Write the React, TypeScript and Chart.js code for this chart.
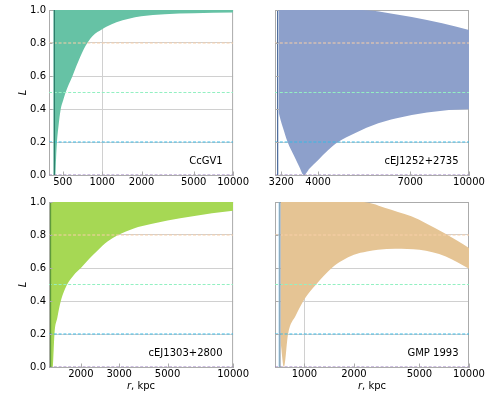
import { useEffect, useRef } from "react";
import { Chart, registerables } from "chart.js";

Chart.register(...registerables);

const FONT = "'DejaVu Sans', sans-serif";
const FRAME = "#ababab";
const GRID = "#d0d0d0";
const CLEAR = "rgba(0,0,0,0)";

// Reference levels of L, drawn as dashed lines in every panel
const levelValues = [0.8, 0.5, 0.2, 0.0];
const levelColors = ["#f9cfa8", "#93f0c2", "#38b8e4", "#9a7cc0"];
const yTickValues = [0, 0.2, 0.4, 0.6, 0.8, 1.0];

// CcGV1
const ccgvRange = [393, 10000];
const ccgvTicks = [500, 1000, 2000, 5000, 10000];
const ccgvUpperR = [424, 10000];
const ccgvUpperL = [1.0, 1.0];
const ccgvLowerR = [424, 440, 445, 452, 465, 483, 503, 526, 557, 594, 636, 680, 727, 778, 846, 920, 1000, 1087, 1286, 1600, 1989, 3000, 5000, 10000];
const ccgvLowerL = [0.0, 0.0, 0.1, 0.2, 0.3, 0.4, 0.45, 0.5, 0.55, 0.6, 0.66, 0.715, 0.765, 0.805, 0.842, 0.866, 0.884, 0.9, 0.926, 0.947, 0.962, 0.975, 0.981, 0.985];
const ccgvEdge = 432;

// cEJ1252+2735
const cej1252Range = [3081, 10000];
const cej1252Ticks = [3200, 4000, 7000, 10000];
const cej1252UpperR = [3149, 5210, 5600, 6000, 7066, 8500, 10000];
const cej1252UpperL = [1.0, 1.0, 0.995, 0.985, 0.958, 0.92, 0.879];
const cej1252LowerR = [3149, 3190, 3230, 3326, 3468, 3570, 3670, 3800, 4000, 4250, 4518, 5000, 5765, 6400, 7066, 8500, 10000];
const cej1252LowerL = [0.38, 0.33, 0.29, 0.2, 0.11, 0.05, 0.0, 0.04, 0.09, 0.15, 0.2, 0.253, 0.313, 0.342, 0.364, 0.39, 0.398];
const cej1252Edge = 3131;

// cEJ1303+2800
const cej1303Range = [1428, 10000];
const cej1303Ticks = [2000, 3000, 5000, 10000];
const cej1303UpperR = [1439, 10000];
const cej1303UpperL = [1.0, 1.0];
const cej1303LowerR = [1439, 1486, 1500, 1513, 1560, 1618, 1730, 1850, 2000, 2180, 2381, 2650, 2963, 3500, 4200, 5000, 6530, 8000, 10000];
const cej1303LowerL = [0.0, 0.0, 0.1, 0.2, 0.3, 0.4, 0.5, 0.555, 0.6, 0.655, 0.705, 0.76, 0.8, 0.84, 0.866, 0.888, 0.913, 0.932, 0.947];
const cej1303Edge = 1452;

// GMP 1993
const gmpRange = [663, 10000];
const gmpTicks = [1000, 2000, 5000, 10000];
const gmpUpperR = [717, 2210, 2600, 3070, 3700, 4460, 5500, 7110, 8500, 10000];
const gmpUpperL = [1.0, 1.0, 0.99, 0.965, 0.94, 0.913, 0.87, 0.81, 0.765, 0.721];
const gmpLowerR = [717, 752, 796, 885, 1000, 1178, 1466, 1700, 2000, 2400, 2800, 3565, 5000, 6000, 7230, 8500, 10000];
const gmpLowerL = [0.15, 0.0, 0.2, 0.31, 0.41, 0.5, 0.6, 0.645, 0.68, 0.7, 0.71, 0.717, 0.71, 0.695, 0.67, 0.635, 0.596];
const gmpEdges = [711, 704];
const gmpEdgeColors = ["#8d9aa6", "#7cc0e8"];

type Panel = {
  name: string;
  range: number[];
  ticks: number[];
  gridX: number[];
  upperR: number[];
  upperL: number[];
  lowerR: number[];
  lowerL: number[];
  fill: string;
  edges: number[];
  edgeColors: string[];
  showY: boolean;
  showXTitle: boolean;
  box: { left: number; top: number; width: number; height: number };
  area: { left: number; top: number; right: number; bottom: number };
};

const panels: Panel[] = [
  {
    name: "CcGV1",
    range: ccgvRange,
    ticks: ccgvTicks,
    gridX: [1000],
    upperR: ccgvUpperR,
    upperL: ccgvUpperL,
    lowerR: ccgvLowerR,
    lowerL: ccgvLowerL,
    fill: "#66c2a5",
    edges: [ccgvEdge],
    edgeColors: ["#2d7d6c"],
    showY: true,
    showXTitle: false,
    box: { left: 0, top: 0, width: 250, height: 196 },
    area: { left: 49, top: 10, right: 242, bottom: 175 },
  },
  {
    name: "cEJ1252+2735",
    range: cej1252Range,
    ticks: cej1252Ticks,
    gridX: [],
    upperR: cej1252UpperR,
    upperL: cej1252UpperL,
    lowerR: cej1252LowerR,
    lowerL: cej1252LowerL,
    fill: "#8da0cb",
    edges: [cej1252Edge],
    edgeColors: ["#46679a"],
    showY: false,
    showXTitle: false,
    box: { left: 250, top: 0, width: 241, height: 196 },
    area: { left: 25, top: 10, right: 219, bottom: 175 },
  },
  {
    name: "cEJ1303+2800",
    range: cej1303Range,
    ticks: cej1303Ticks,
    gridX: [],
    upperR: cej1303UpperR,
    upperL: cej1303UpperL,
    lowerR: cej1303LowerR,
    lowerL: cej1303LowerL,
    fill: "#a6d854",
    edges: [cej1303Edge],
    edgeColors: ["#5f9a3c"],
    showY: true,
    showXTitle: true,
    box: { left: 0, top: 192, width: 250, height: 202 },
    area: { left: 49, top: 10, right: 242, bottom: 175 },
  },
  {
    name: "GMP 1993",
    range: gmpRange,
    ticks: gmpTicks,
    gridX: [1000],
    upperR: gmpUpperR,
    upperL: gmpUpperL,
    lowerR: gmpLowerR,
    lowerL: gmpLowerL,
    fill: "#e5c494",
    edges: gmpEdges,
    edgeColors: gmpEdgeColors,
    showY: false,
    showXTitle: true,
    box: { left: 250, top: 192, width: 241, height: 202 },
    area: { left: 25, top: 10, right: 219, bottom: 175 },
  },
];

const toPoints = (xs: number[], ys: number[]) => xs.map((x, i) => ({ x, y: ys[i] }));

// Frame, inward ticks and the text annotations of one panel
const panelDecor = {
  id: "panelDecor",
  beforeDatasetsDraw(chart: any) {
    const { ctx, chartArea: a } = chart;
    ctx.save();
    ctx.strokeStyle = FRAME;
    ctx.lineWidth = 1;
    ctx.beginPath();
    ctx.moveTo(a.left, a.top + 0.5);
    ctx.lineTo(a.right, a.top + 0.5);
    ctx.moveTo(a.right - 0.5, a.top);
    ctx.lineTo(a.right - 0.5, a.bottom);
    ctx.stroke();
    ctx.restore();
  },
  afterDraw(chart: any) {
    const p: Panel = chart.options.plugins.panelDecor.panel;
    const { ctx, chartArea: a, scales } = chart;
    ctx.save();
    ctx.strokeStyle = FRAME;
    ctx.lineWidth = 1;
    ctx.beginPath();
    for (const v of p.ticks) {
      const x = Math.round(scales.x.getPixelForValue(v)) + 0.5;
      ctx.moveTo(x, a.bottom);
      ctx.lineTo(x, a.bottom - 3.5);
    }
    for (const v of yTickValues) {
      const y = Math.round(scales.y.getPixelForValue(v)) + 0.5;
      ctx.moveTo(a.left, y);
      ctx.lineTo(a.left + 3.5, y);
    }
    ctx.stroke();

    ctx.fillStyle = "#000";
    ctx.font = `10px ${FONT}`;
    ctx.textAlign = "right";
    ctx.textBaseline = "middle";
    ctx.fillText(p.name, a.right - 10.5, a.bottom - 13.5);

    if (p.showY) {
      ctx.save();
      ctx.translate(23, (a.top + a.bottom) / 2);
      ctx.rotate(-Math.PI / 2);
      ctx.textAlign = "center";
      ctx.font = `italic 10px ${FONT}`;
      ctx.fillText("L", 0, 0);
      ctx.restore();
    }
    if (p.showXTitle) {
      const cx = (a.left + a.right) / 2;
      const y = a.bottom + 19.5;
      ctx.font = `italic 10px ${FONT}`;
      const rW = ctx.measureText("r").width;
      ctx.font = `10px ${FONT}`;
      const restW = ctx.measureText(", kpc").width;
      const x0 = cx - (rW + restW) / 2;
      ctx.textAlign = "left";
      ctx.font = `italic 10px ${FONT}`;
      ctx.fillText("r", x0, y);
      ctx.font = `10px ${FONT}`;
      ctx.fillText(", kpc", x0 + rW, y);
    }
    ctx.restore();
  },
};

function PanelChart({ panel }: { panel: Panel }) {
  const ref = useRef<HTMLCanvasElement>(null);
  useEffect(() => {
    if (!ref.current) return;
    const p = panel;
    const [xMin, xMax] = p.range;
    const levelSets = levelValues.map((v, i) => ({
      data: [
        { x: xMin, y: v },
        { x: xMax, y: v },
      ],
      borderColor: levelColors[i],
      borderWidth: 1,
      borderDash: [3, 1.8],
      pointRadius: 0,
      fill: false,
      order: 2,
    }));
    const edgeSets = p.edges.map((r, i) => ({
      data: [
        { x: r, y: 0 },
        { x: r, y: 1 },
      ],
      borderColor: p.edgeColors[i],
      borderWidth: 1.2,
      pointRadius: 0,
      fill: false,
      order: 1 + i * 0.1,
    }));
    const chart = new Chart(ref.current, {
      type: "line",
      data: {
        datasets: [
          {
            data: toPoints(p.upperR, p.upperL),
            fill: "+1",
            backgroundColor: p.fill,
            borderColor: CLEAR,
            borderWidth: 0,
            pointRadius: 0,
            cubicInterpolationMode: "monotone",
            order: 10,
          },
          {
            data: toPoints(p.lowerR, p.lowerL),
            fill: false,
            borderColor: CLEAR,
            borderWidth: 0,
            pointRadius: 0,
            cubicInterpolationMode: "monotone",
            order: 11,
          },
          ...levelSets,
          ...edgeSets,
        ] as any,
      },
      options: {
        animation: false,
        responsive: false,
        devicePixelRatio: 1,
        events: [],
        layout: {
          padding: {
            left: 0,
            top: p.area.top,
            right: p.box.width - p.area.right,
            bottom: 0,
          },
        },
        plugins: {
          legend: { display: false },
          tooltip: { enabled: false },
          panelDecor: { panel: p },
        } as any,
        scales: {
          x: {
            type: "logarithmic",
            min: xMin,
            max: xMax,
            afterBuildTicks: (s: any) => {
              s.ticks = p.ticks.map((v) => ({ value: v }));
            },
            afterFit: (s: any) => {
              s.height = p.box.height - p.area.bottom;
            },
            ticks: {
              autoSkip: false,
              maxRotation: 0,
              minRotation: 0,
              padding: 1,
              color: "#000",
              font: { family: FONT, size: 10 },
              callback: (v: any) => String(v),
            },
            grid: {
              drawTicks: false,
              color: (c: any) => (c.tick && p.gridX.includes(c.tick.value) ? GRID : CLEAR),
              lineWidth: 1,
            },
            border: { color: FRAME, width: 1 },
          },
          y: {
            type: "linear",
            min: 0,
            max: 1,
            afterBuildTicks: (s: any) => {
              s.ticks = yTickValues.map((v) => ({ value: v }));
            },
            afterFit: (s: any) => {
              s.width = p.area.left;
            },
            ticks: {
              display: p.showY,
              padding: 3,
              color: "#000",
              font: { family: FONT, size: 10 },
              callback: (v: any) => Number(v).toFixed(1),
            },
            grid: {
              drawTicks: false,
              color: (c: any) => (c.tick && c.tick.value > 0.01 && c.tick.value < 0.99 ? GRID : CLEAR),
              lineWidth: 1,
            },
            border: { color: FRAME, width: 1 },
          },
        } as any,
      },
      plugins: [panelDecor],
    });
    return () => chart.destroy();
  }, [panel]);

  const b = panel.box;
  return (
    <canvas
      ref={ref}
      width={b.width}
      height={b.height}
      style={{ position: "absolute", left: b.left, top: b.top, width: b.width, height: b.height }}
    />
  );
}

export default function App() {
  return (
    <div style={{ position: "fixed", left: 0, top: 0, width: 491, height: 394, background: "#fff" }}>
      {panels.map((p) => (
        <PanelChart key={p.name} panel={p} />
      ))}
    </div>
  );
}
